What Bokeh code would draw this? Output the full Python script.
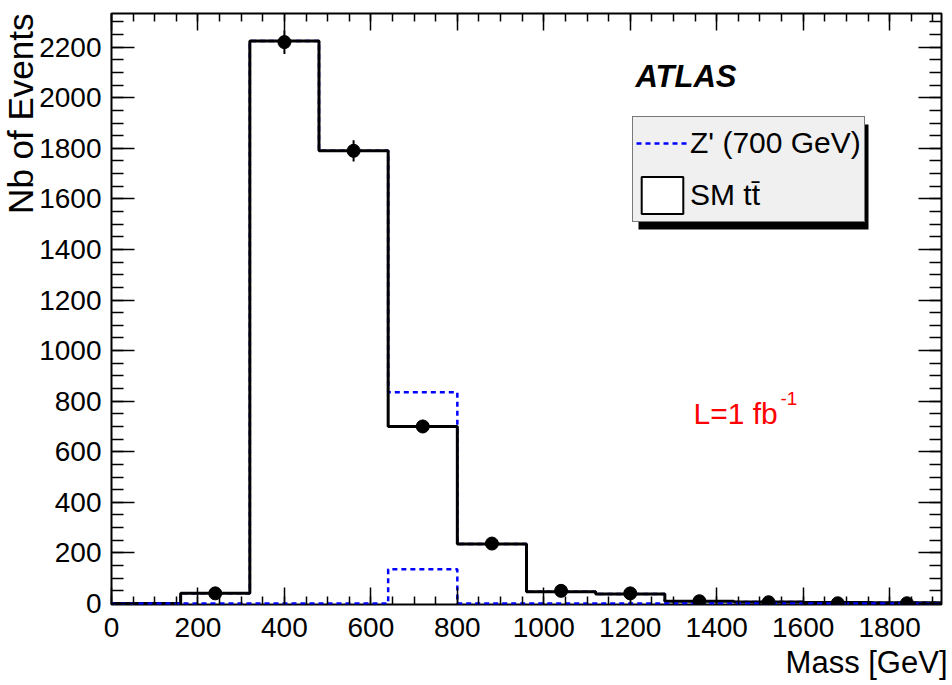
import math

from bokeh.plotting import figure
from bokeh.models import (Range1d, LinearAxis, SingleIntervalTicker, Legend,
                          LegendItem, Label, BoxAnnotation, Title,
                          CustomJSTickFormatter)
from bokeh.embed import file_html
from bokeh.resources import INLINE

# ---- histogram content (160 GeV bins) ----
bin_edges = [0, 160, 320, 480, 640, 800, 960, 1120, 1280, 1440, 1600, 1760, 1920]
sm_ttbar = [0, 40, 2224, 1790, 700, 235, 46, 38, 9, 6, 4, 3]
zprime_700 = [0, 0, 0, 0, 135, 0, 0, 0, 0, 0, 0, 0]

# pseudo-data points at bin centres
data_mass = [240, 400, 560, 720, 880, 1040, 1200, 1360, 1520, 1680, 1840]
data_events = [40, 2220, 1790, 700, 237, 50, 40, 9, 5, 1, 1]
data_errors = [6, 47, 42, 26, 15, 7, 6, 3, 2, 1, 1]

FONT = "Liberation Sans"

p = figure(width=952, height=685, output_backend="svg", toolbar_location=None,
           x_range=Range1d(0, 1920), y_range=Range1d(-4, 2333),
           min_border_left=111, min_border_right=11,
           min_border_top=13, min_border_bottom=81,
           background_fill_color="white", border_fill_color="white")
p.grid.visible = False
p.outline_line_color = "black"
p.outline_line_width = 2


def style_axis(axis, tick_in, minor_in, show_labels, standoff):
    axis.ticker = SingleIntervalTicker(interval=200, num_minor_ticks=4)
    axis.axis_line_color = None
    axis.major_tick_in = tick_in
    axis.major_tick_out = 0
    axis.minor_tick_in = minor_in
    axis.minor_tick_out = 0
    axis.major_tick_line_color = "black"
    axis.major_tick_line_width = 1.5
    axis.minor_tick_line_color = "black"
    axis.minor_tick_line_width = 1.5
    axis.major_label_text_font = FONT
    axis.major_label_text_color = "black"
    axis.major_label_text_font_size = "28px"
    axis.major_label_standoff = standoff
    if not show_labels:
        axis.formatter = CustomJSTickFormatter(code="return ''")


style_axis(p.xaxis[0], 17, 8, True, 13)
style_axis(p.yaxis[0], 23, 12, True, 10)

top_axis = LinearAxis()
style_axis(top_axis, 17, 8, False, 0)
p.add_layout(top_axis, "above")
right_axis = LinearAxis()
style_axis(right_axis, 23, 12, False, 0)
p.add_layout(right_axis, "right")

# axis titles, right-aligned at the end of each axis
p.add_layout(Title(text="Nb of Events", align="right", text_font=FONT,
                   text_font_size="35px", text_font_style="normal",
                   text_color="black", standoff=-7), "left")
p.add_layout(Title(text="Mass [GeV]", align="right", text_font=FONT,
                   text_font_size="31px", text_font_style="normal",
                   text_color="black", standoff=6, offset=-6), "below")

# step outlines: repeat last bin value so the final bin is drawn to its edge
sm_steps = sm_ttbar + [sm_ttbar[-1]]
z_steps = zprime_700 + [zprime_700[-1]]
stack_steps = [s + z for s, z in zip(sm_steps, z_steps)]

# SM + Z' stacked outline (only visible where it exceeds the SM line)
p.step(bin_edges, stack_steps, mode="after", line_color="#0000ff",
       line_width=2.5, line_dash="5 4")
# SM ttbar histogram
p.step(bin_edges, sm_steps, mode="after", line_color="black", line_width=3)
# Z' signal alone
z_line = p.step(bin_edges, z_steps, mode="after", line_color="#0000ff",
                line_width=2.5, line_dash="5 4")

# data points with vertical error bars
lo = [v - e for v, e in zip(data_events, data_errors)]
hi = [v + e for v, e in zip(data_events, data_errors)]
p.segment(x0=data_mass, y0=lo, x1=data_mass, y1=hi, line_color="black", line_width=2)
p.scatter(data_mass, data_events, marker="circle", size=13,
          fill_color="black", line_color="black")

# SM histogram as boxes: hidden in the plot, only supplies the legend swatch
sm_box = p.quad(left=bin_edges[:-1], right=bin_edges[1:], top=sm_ttbar, bottom=0,
                fill_color="white", line_color="black", line_width=2, visible=False)

# drop shadow behind legend
shadow = BoxAnnotation(left=527, right=757, top=480, bottom=375,
                       left_units="screen", right_units="screen",
                       top_units="screen", bottom_units="screen",
                       fill_color="black", fill_alpha=1, line_color=None)
p.add_layout(shadow)

legend = Legend(items=[LegendItem(label="Z' (700 GeV)", renderers=[z_line]),
                       LegendItem(label="SM tt\u0304", renderers=[sm_box])],
                location=(521, 382), padding=3, spacing=6, margin=0,
                glyph_width=52, glyph_height=46, label_standoff=2,
                label_text_font=FONT, label_text_font_size="30px",
                label_text_color="black",
                border_line_color="black", border_line_width=1.5,
                background_fill_color="#f0f0f0", background_fill_alpha=1)
p.add_layout(legend)

# text annotations
p.add_layout(Label(x=524, y=528, x_units="screen", y_units="screen", text="ATLAS",
                   text_font=FONT, text_font_style="bold italic", text_color="black",
                   text_font_size="31px", text_baseline="alphabetic"))
p.add_layout(Label(x=582, y=191, x_units="screen", y_units="screen", text="L=1 fb",
                   text_font=FONT, text_font_size="30px", text_color="#ff0000",
                   text_baseline="alphabetic"))
p.add_layout(Label(x=669, y=206, x_units="screen", y_units="screen", text="-1",
                   text_font=FONT, text_font_size="19px", text_color="#ff0000",
                   text_baseline="alphabetic"))

open("out.html", "w").write(file_html(p, INLINE))
